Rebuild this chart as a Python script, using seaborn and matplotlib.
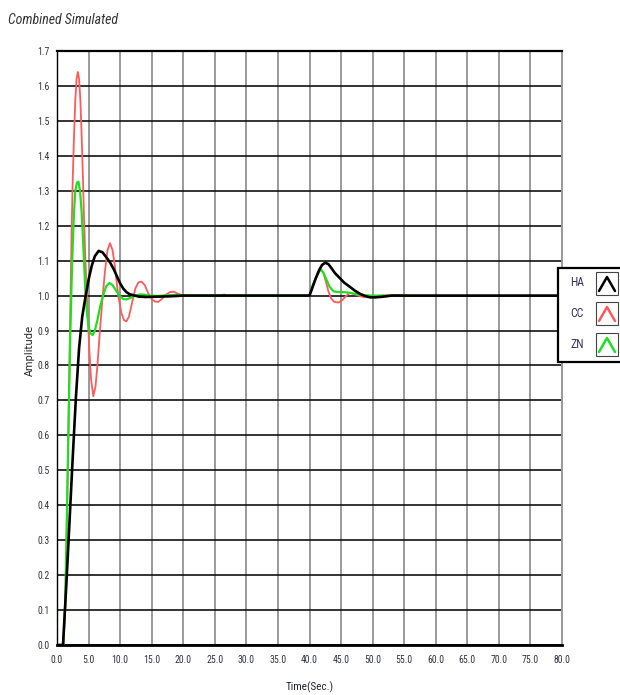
import matplotlib
matplotlib.use("Agg")
import matplotlib.pyplot as plt
import numpy as np
import pandas as pd
import seaborn as sns
from matplotlib import font_manager
from matplotlib.patches import Rectangle
from matplotlib.lines import Line2D

# ---------------- data ----------------
HA_t = [0, 0.95, 1.5, 2.0, 2.5, 3.0, 3.5, 4.0, 4.5, 5.0, 5.5, 6.0, 6.6, 7.2, 7.8,
        8.4, 9.0, 9.5, 10.0, 10.5, 11.0, 11.5, 12.3, 13.0, 14.0, 16.0, 18.0, 20.0,
        40.0, 40.5, 41.0, 41.5, 42.0, 42.5, 43.0, 43.5, 44.0, 44.8, 45.5, 46.4,
        47.2, 48.0, 48.8, 49.6, 50.5, 51.7, 53.0, 55.0, 80.0]
HA_v = [0, 0, 0.18, 0.36, 0.54, 0.71, 0.85, 0.94, 0.995, 1.045, 1.085, 1.113, 1.128,
        1.124, 1.11, 1.095, 1.075, 1.055, 1.035, 1.02, 1.01, 1.004, 1.0, 0.997,
        0.996, 0.997, 0.998, 1.0,
        1.0, 1.025, 1.05, 1.072, 1.088, 1.094, 1.09, 1.078, 1.065, 1.05, 1.037,
        1.025, 1.014, 1.005, 0.999, 0.995, 0.995, 0.997, 1.0, 1.0, 1.0]

CC_t = [0, 1.0, 1.3, 1.5, 1.7, 1.9, 2.1, 2.3, 2.5, 2.7, 2.9, 3.1, 3.3, 3.5, 3.7,
        3.9, 4.1, 4.3, 4.5, 4.8, 5.1, 5.4, 5.75, 6.1, 6.4, 6.8, 7.2, 7.6, 8.0,
        8.4, 8.8, 9.2, 9.7, 10.2, 10.6, 11.0, 11.4, 11.9, 12.4, 12.9, 13.4, 13.9,
        14.5, 15.0, 15.5, 16.05, 16.6, 17.2, 17.9, 18.5, 19.2, 20.0, 25.5, 26.5,
        27.0, 40.0, 40.5, 41.0, 41.5, 41.8, 42.2, 42.6, 43.0, 43.4, 43.9, 44.6,
        45.2, 45.8, 46.4, 47.0, 47.7, 48.5, 49.5, 50.5, 51.5, 53.0, 55.2]
CC_v = [0, 0, 0.1, 0.3, 0.5, 0.72, 0.95, 1.17, 1.34, 1.46, 1.56, 1.62, 1.64, 1.62,
        1.56, 1.46, 1.34, 1.21, 1.1, 0.97, 0.85, 0.76, 0.712, 0.74, 0.8, 0.9,
        0.99, 1.07, 1.13, 1.15, 1.13, 1.08, 1.0, 0.95, 0.93, 0.926, 0.94, 0.98,
        1.02, 1.038, 1.04, 1.03, 1.005, 0.99, 0.983, 0.982, 0.99, 1.002, 1.01,
        1.011, 1.005, 1.0, 1.0, 1.003, 1.0, 1.0, 1.028, 1.05, 1.068, 1.076, 1.065,
        1.04, 1.012, 0.993, 0.982, 0.98, 0.987, 0.999, 1.008, 1.005, 1.0, 0.996,
        0.995, 0.997, 1.0, 1.001, 1.0]

ZN_t = [0, 1.0, 1.3, 1.5, 1.7, 1.9, 2.1, 2.3, 2.5, 2.7, 2.9, 3.15, 3.4, 3.65, 3.9,
        4.1, 4.3, 4.5, 4.75, 5.0, 5.3, 5.65, 6.0, 6.4, 6.85, 7.3, 7.8, 8.3, 8.8,
        9.4, 10.0, 10.5, 11.0, 11.6, 12.3, 13.0, 13.8, 14.5, 16.0, 17.5, 19.0,
        20.0, 40.0, 40.5, 41.0, 41.5, 41.8, 42.2, 42.7, 43.2, 43.8, 44.6, 45.5,
        46.4, 47.5, 48.5, 50.0, 52.0, 55.4]
ZN_v = [0, 0, 0.12, 0.3, 0.5, 0.7, 0.88, 1.03, 1.15, 1.24, 1.3, 1.323, 1.326, 1.3,
        1.24, 1.17, 1.09, 1.01, 0.95, 0.91, 0.892, 0.887, 0.9, 0.93, 0.97, 1.0,
        1.027, 1.036, 1.03, 1.013, 0.998, 0.99, 0.989, 0.993, 1.0, 1.003, 1.003,
        1.0, 0.999, 1.001, 1.002, 1.0, 1.0, 1.028, 1.05, 1.068, 1.075, 1.065,
        1.045, 1.025, 1.012, 1.01, 1.01, 1.008, 1.004, 1.001, 1.0, 1.0, 1.0]

series_names = ["HA", "CC", "ZN"]
series_colors = {"HA": "#000000", "CC": "#ff5a5a", "ZN": "#1fe01f"}
x_ticks = list(range(0, 81, 5))
y_ticks = [round(0.1 * i, 1) for i in range(18)]

# ---------------- fonts ----------------
def pick(fams):
    for f in fams:
        try:
            font_manager.findfont(font_manager.FontProperties(family=f),
                                  fallback_to_default=False)
            return f
        except Exception:
            pass
    return "DejaVu Sans"

NARROW = pick(["Liberation Sans Narrow", "Roboto Condensed", "DejaVu Sans"])

sns.set_style("white")
plt.rcParams["font.family"] = ["DejaVu Sans"]

W, H = 620, 695
fig = plt.figure(figsize=(W / 100, H / 100), dpi=100)
fig.patch.set_facecolor("white")
ax = fig.add_axes([57 / W, 1 - 645 / H, (562 - 57) / W, (645 - 51) / H])

df_cc = pd.DataFrame({"t": CC_t, "v": CC_v})
df_zn = pd.DataFrame({"t": ZN_t, "v": ZN_v})
df_ha = pd.DataFrame({"t": HA_t, "v": HA_v})

sns.lineplot(data=df_cc, x="t", y="v", ax=ax, color=series_colors["CC"],
             lw=1.3, zorder=3, estimator=None)
sns.lineplot(data=df_zn, x="t", y="v", ax=ax, color=series_colors["ZN"],
             lw=1.6, zorder=4, estimator=None)
sns.lineplot(data=df_ha, x="t", y="v", ax=ax, color=series_colors["HA"],
             lw=1.9, zorder=5, estimator=None)

ax.set_xlim(0, 80)
ax.set_ylim(0, 1.7)
ax.set_xticks(x_ticks)
ax.set_yticks(y_ticks)
ax.set_xticklabels([f"{v:.1f}" for v in x_ticks], fontfamily=NARROW, fontsize=7,
                   color="#333344")
ax.set_yticklabels([f"{v:.1f}" for v in y_ticks], fontfamily=NARROW, fontsize=7,
                   color="#333344")
ax.tick_params(axis="y", direction="out", length=4, width=1, color="#333333",
               pad=1.5)
ax.tick_params(axis="x", direction="out", length=4, width=1, color="#333333",
               pad=3)
ax.xaxis.grid(True, color="#9a9a9a", lw=1.4)
ax.yaxis.grid(True, color="#111111", lw=1.2)
ax.set_axisbelow(True)
for side, (c, lw) in {"top": ("black", 1.6), "left": ("black", 1.0),
                      "bottom": ("black", 2.0), "right": ("#9a9a9a", 1.4)}.items():
    ax.spines[side].set_visible(True)
    ax.spines[side].set_color(c)
    ax.spines[side].set_linewidth(lw)

ax.set_xlabel("")
ax.set_ylabel("")
fig.text(310 / W, 1 - 687 / H, "Time(Sec.)", fontfamily=NARROW, fontsize=8,
         color="#222233", ha="center", va="center")
fig.text(30 / W, 1 - 350 / H, "Amplitude", rotation=90, ha="center",
         va="center", fontsize=7.2, color="#222222")

fig.text(8 / W, 1 - 20 / H, "Combined Simulated", fontfamily=NARROW,
         style="italic", fontsize=10, color="#333333", ha="left", va="center")

# ---------------- legend (drawn as figure decoration) ----------------
def fx(x):
    return x / W

def fy(y):
    return 1 - y / H

fig.add_artist(Rectangle((fx(558), fy(362)), 80 / W, 94 / H,
                         transform=fig.transFigure, facecolor="white",
                         edgecolor="black", lw=1.6, zorder=10))
rows = [(283, "HA"), (313, "CC"), (344, "ZN")]
for yc, name in rows:
    fig.text(fx(577), fy(yc), name, fontfamily=NARROW, fontsize=8.5,
             color="#333355", ha="center", va="center", zorder=11)
    top, bot = yc - 11, yc + 12
    fig.add_artist(Rectangle((fx(596), fy(bot)), 22 / W, (bot - top) / H,
                             transform=fig.transFigure, facecolor="white",
                             edgecolor="#444444", lw=0.8, zorder=11))
    fig.add_artist(Line2D([fx(599), fx(607), fx(615)],
                          [fy(bot - 4), fy(top + 5), fy(bot - 4)],
                          transform=fig.transFigure, color=series_colors[name],
                          lw=1.8, zorder=12))

fig.savefig("out.png", dpi=100)
